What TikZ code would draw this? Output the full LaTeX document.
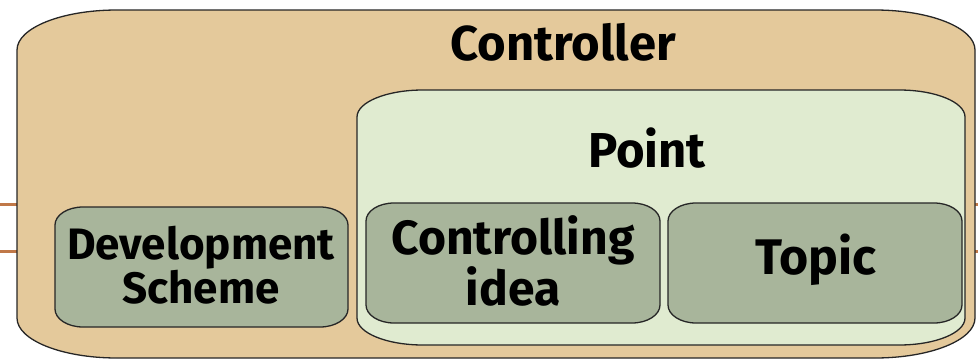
\documentclass[tikz,border=0pt]{standalone}
\usepackage{fontspec}
\setmainfont{Fira Sans}
\definecolor{tan}{RGB}{228,201,155}
\definecolor{pale}{RGB}{224,235,208}
\definecolor{sage}{RGB}{168,181,155}
\definecolor{stub}{RGB}{192,120,72}
\newcommand{\ellbox}[7]{%
 \path[#1] (#2,{#5-#7}) arc[start angle=180,end angle=90,x radius=#6,y radius=#7]
 -- ({#4-#6},#5) arc[start angle=90,end angle=0,x radius=#6,y radius=#7]
 -- (#4,{#3+#7}) arc[start angle=0,end angle=-90,x radius=#6,y radius=#7]
 -- ({#2+#6},#3) arc[start angle=270,end angle=180,x radius=#6,y radius=#7] -- cycle;}
\begin{document}
\begin{tikzpicture}[x=1pt,y=1pt,
  boxline/.style={draw=black!85,line width=1.3pt},
  lbl/.style={font=\bfseries\fontsize{49}{50}\selectfont,align=center,inner sep=0pt},
  stubline/.style={draw=stub,line width=3pt}]
\useasboundingbox (0,0) rectangle (978,360);
% stubs
\coordinate (l1a) at (0,156); \coordinate (l1b) at (17,156);
\coordinate (l2a) at (0,109); \coordinate (l2b) at (17,109);
\coordinate (r1a) at (975,156); \coordinate (r1b) at (978,156);
\coordinate (r2a) at (975,109); \coordinate (r2b) at (978,109);
\draw[stubline] (l1a) -- (l1b); \draw[stubline] (l2a) -- (l2b);
\draw[stubline] (r1a) -- (r1b); \draw[stubline] (r2a) -- (r2b);
% shapes
\ellbox{boxline,fill=tan}{17}{2}{975}{350}{100}{40}
\ellbox{boxline,fill=pale}{357}{15}{965}{270}{66}{27}
\ellbox{boxline,fill=sage}{55}{33}{348}{153}{28}{18}
\ellbox{boxline,fill=sage}{366}{37}{660}{157}{28}{18}
\ellbox{boxline,fill=sage}{668}{37}{962}{157}{28}{18}
% labels
\node[lbl] (controller) at (563,318) {Controller};
\node[lbl] (point) at (647,212) {Point};
\node[lbl,font=\bfseries\fontsize{44}{43}\selectfont] (dev) at (201,95) {Development\\Scheme};
\node[lbl,font=\bfseries\fontsize{48}{45}\selectfont] (ctrl) at (513,99) {Controlling\\idea};
\node[lbl,font=\bfseries\fontsize{50}{50}\selectfont] (topic) at (816,100) {Topic};
\end{tikzpicture}
\end{document}
